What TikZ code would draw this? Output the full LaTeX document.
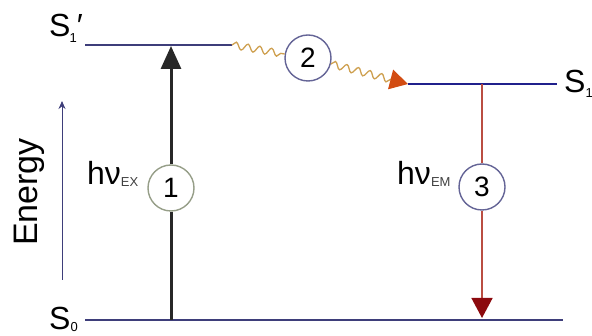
\documentclass[tikz,border=0pt]{standalone}
\usepackage{fontspec}
\setmainfont{Liberation Sans}
\usetikzlibrary{arrows.meta,decorations.pathmorphing}
\definecolor{levelblue}{RGB}{62,62,122}
\definecolor{sonelevel}{RGB}{32,32,140}
\definecolor{wavetan}{RGB}{206,160,80}
\definecolor{waveorange}{RGB}{210,76,18}
\definecolor{emitred}{RGB}{186,78,66}
\definecolor{emitdark}{RGB}{140,10,14}
\definecolor{exblack}{RGB}{40,40,40}
\definecolor{ringgreen}{RGB}{150,158,136}
\definecolor{ringblue}{RGB}{100,100,150}
\newcommand{\subsz}{\fontsize{13}{13}\selectfont}

\begin{document}
\begin{tikzpicture}[x=1pt,y=-1pt,
  lbl/.style={inner sep=0pt,font=\fontsize{32}{36}\selectfont},
  stepnum/.style={circle,draw=#1,line width=1.4pt,fill=white,minimum size=46pt,
    inner sep=0pt,font=\fontsize{28}{30}\selectfont},
  level/.style={line width=2pt},
  wave/.style={wavetan,line width=1.3pt,decorate,
    decoration={snake,amplitude=3.5pt,segment length=12pt}}]
  \useasboundingbox (0,0) rectangle (592,336);
  % energy levels
  \coordinate (s1pL) at (85,45);  \coordinate (s1pR) at (232,45);
  \coordinate (s1L) at (408,84);  \coordinate (s1R) at (557,84);
  \coordinate (s0L) at (85,320);  \coordinate (s0R) at (563,320);
  \draw[level,levelblue] (s1pL) -- (s1pR);
  \draw[level,sonelevel] (s1L) -- (s1R);
  \draw[level,levelblue] (s0L) -- (s0R);
  % level labels
  \node[lbl,anchor=base west] (s1plbl) at (49,37) {S\kern-1pt\lower6pt\hbox{\subsz 1}′};
  \node[lbl,anchor=base west] (s1lbl) at (564,93) {S\lower5pt\hbox{\subsz 1}};
  \node[lbl,anchor=base west] (s0lbl) at (49,330) {S\lower2pt\hbox{\subsz 0}};
  % energy axis
  \coordinate (enlo) at (62,280);
  \coordinate (enhi) at (62,101);
  \draw[levelblue,line width=1pt,-{Stealth[length=8pt,width=7pt]}] (enlo) -- (enhi);
  \node[lbl,rotate=90,font=\fontsize{34}{36}\selectfont] (energy) at (29,192) {Energy};
  % steps
  \node[stepnum=ringgreen] (one) at (171,188) {1};
  \node[stepnum=ringblue] (two) at (308,58) {2};
  \node[stepnum=ringblue] (three) at (482,187) {3};
  % 1: excitation
  \coordinate (ex0) at (171,320);
  \coordinate (ex1) at (171,46);
  \draw[exblack,line width=3pt] (ex0) -- (one);
  \draw[exblack,line width=3pt,-{Triangle[width=20pt,length=23pt]}] (one) -- (ex1);
  \node[lbl,anchor=base west] (exlbl) at (87,185) {hν\lower2pt\hbox{\subsz\color{black!75}EX}};
  % 2: relaxation
  \draw[wave] (s1pR) -- (two);
  \draw[wave,decoration={post length=14pt},-{Triangle[width=20pt,length=18pt,color=waveorange]}] (two) -- (s1L);
  % 3: emission
  \coordinate (em1) at (482,84);
  \coordinate (em0) at (482,318);
  \draw[emitred,line width=1.5pt] (em1) -- (three);
  \draw[emitred,line width=1.5pt,-{Triangle[width=21pt,length=20pt,color=emitdark]}] (three) -- (em0);
  \node[lbl,anchor=base west] (emlbl) at (397,185) {hν\lower2pt\hbox{\subsz\color{black!75}EM}};
\end{tikzpicture}
\end{document}
